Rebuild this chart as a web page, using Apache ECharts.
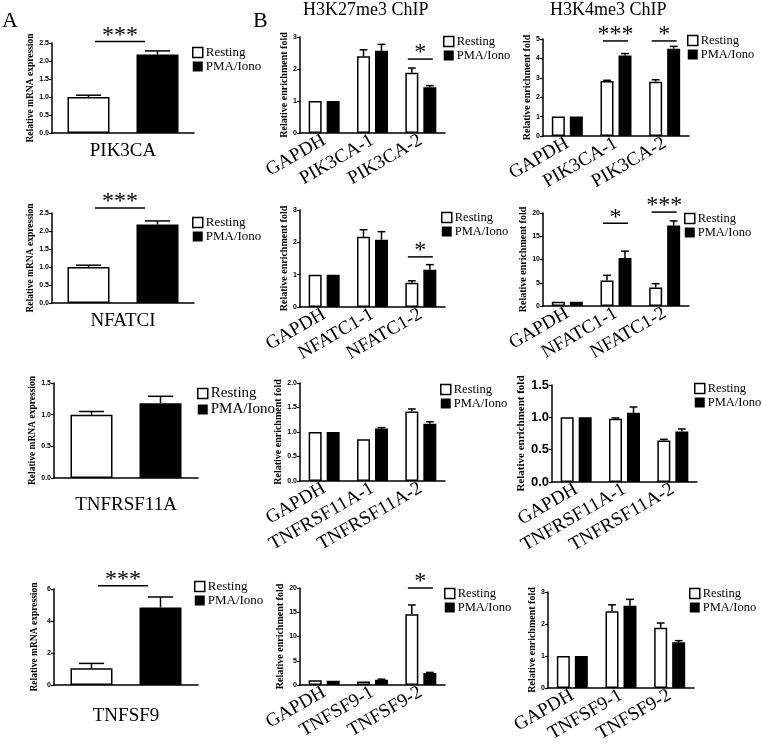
<!DOCTYPE html>
<html><head><meta charset="utf-8">
<script src="https://cdn.jsdelivr.net/npm/echarts@6/dist/echarts.min.js"></script>
<style>html,body{margin:0;padding:0;background:#fff}#c{width:762px;height:746px}</style>
</head><body><div id="c"></div>
<script>
// ---------------- DATA ----------------
const seriesNames = ['Resting', 'PMA/Iono'];

// Panel A: relative mRNA expression (one gene per chart)
const aGenes = ['PIK3CA', 'NFATCI', 'TNFRSF11A', 'TNFSF9'];
const aResting = [1.00, 1.00, 1.00, 1.05];
const aRestingErr = [0.05, 0.05, 0.05, 0.30];
const aPma = [2.18, 2.18, 1.18, 4.85];
const aPmaErr = [0.10, 0.10, 0.11, 0.65];
const aYMax = [2.5, 2.5, 1.5, 6];
const aYStep = [0.5, 0.5, 0.5, 2];
const aSig = [['***', 2.54], ['***', 2.64], null, ['***', 6.2]];

// Panel B categories
const catsPIK3CA = ['GAPDH', 'PIK3CA-1', 'PIK3CA-2'];
const catsNFATC1 = ['GAPDH', 'NFATC1-1', 'NFATC1-2'];
const catsTNFRSF11A = ['GAPDH', 'TNFRSF11A-1', 'TNFRSF11A-2'];
const catsTNFSF9 = ['GAPDH', 'TNFSF9-1', 'TNFSF9-2'];
const bCats = [catsPIK3CA, catsNFATC1, catsTNFRSF11A, catsTNFSF9];

// H3K27me3 ChIP
const k27Resting = [[1, 2.40, 1.88], [1, 2.17, 0.75], [1, 0.85, 1.42], [1.0, 0.7, 14.6]];
const k27RestingErr = [[0, 0.20, 0.15], [0, 0.22, 0.06], [0, 0, 0.05], [0, 0, 1.9]];
const k27Pma = [[1, 2.57, 1.43], [1, 2.08, 1.15], [1, 1.07, 1.17], [0.9, 1.1, 2.5]];
const k27PmaErr = [[0, 0.20, 0.05], [0, 0.25, 0.16], [0, 0.02, 0.04], [0, 0.1, 0.1]];
const k27YMax = [3, 3, 2, 20];
const k27YStep = [1, 1, 0.5, 5];
const k27Sig = [[[2, '*', 2.31]], [[2, '*', 1.55]], [], [[2, '*', 20]]];

// H3K4me3 ChIP
const k4Resting = [[1, 2.84, 2.80], [0.9, 5.5, 4.0], [1, 0.98, 0.64], [1, 2.40, 1.88]];
const k4RestingErr = [[0, 0.03, 0.10], [0, 1.1, 0.8], [0, 0.01, 0.02], [0, 0.20, 0.15]];
const k4Pma = [[1, 4.15, 4.50], [0.9, 10.3, 17.3], [1, 1.07, 0.78], [1, 2.57, 1.43]];
const k4PmaErr = [[0, 0.10, 0.12], [0, 1.5, 1.0], [0, 0.09, 0.04], [0, 0.20, 0.05]];
const k4YMax = [5, 20, 1.5, 3];
const k4YStep = [1, 5, 0.5, 1];
const k4Sig = [[[1, '***', 4.9], [2, '*', 4.9]], [[1, '*', 17.8], [2, '***', 20.2]], [], []];

// ---------------- LAYOUT / STYLE ----------------
const SERIF = '"Liberation Serif", "Times New Roman", serif';
const SANS = '"Liberation Sans", Arial, sans-serif';

const gridBoxes = [
  [52, 43, 142, 90], [52, 213, 142, 90], [54, 383, 144, 95], [54, 589, 144, 96],
  [300, 37, 145, 96], [300, 210, 145, 97], [300, 383, 145, 98], [300, 588, 145, 97],
  [543, 39, 146, 97], [543, 213, 146, 93], [552, 385, 145, 97], [548, 592, 146, 96]
];
const legendPos = [
  [192, 46], [192, 216], [197, 386], [194, 580],
  [443, 35], [441, 211], [440, 383], [444, 587],
  [687, 34], [684, 212], [694, 382], [689, 587]
];

const panels = [];
for (let i = 0; i < 4; i++) {
  panels.push({kind: 'A', cats: [aGenes[i]], rest: [aResting[i]], restErr: [aRestingErr[i]],
    pma: [aPma[i]], pmaErr: [aPmaErr[i]], yMax: aYMax[i], yStep: aYStep[i],
    sig: aSig[i] ? [[0, aSig[i][0], aSig[i][1]]] : []});
}
for (let i = 0; i < 4; i++) {
  panels.push({kind: 'B', cats: bCats[i], rest: k27Resting[i], restErr: k27RestingErr[i],
    pma: k27Pma[i], pmaErr: k27PmaErr[i], yMax: k27YMax[i], yStep: k27YStep[i], sig: k27Sig[i]});
}
for (let i = 0; i < 4; i++) {
  panels.push({kind: 'C', cats: bCats[i], rest: k4Resting[i], restErr: k4RestingErr[i],
    pma: k4Pma[i], pmaErr: k4PmaErr[i], yMax: k4YMax[i], yStep: k4YStep[i], sig: k4Sig[i]});
}

const grid = [], xAxis = [], yAxis = [], series = [], legend = [];

function errRender(barW, gapPx) {
  return function (params, api) {
    const ci = api.value(0), v = api.value(1), e = api.value(2), g = api.value(3);
    if (!e) return null;
    const d = (barW + gapPx) / 2;
    const base = api.coord([ci, v]);
    const top = api.coord([ci, v + e]);
    const x = base[0] + (g === 0 ? -d : d);
    const cw = Math.max(6, barW * 0.6);
    return {type: 'group', children: [
      {type: 'line', shape: {x1: x, y1: base[1], x2: x, y2: top[1]}, style: {stroke: '#000', lineWidth: 1.5}},
      {type: 'line', shape: {x1: x - cw / 2, y1: top[1], x2: x + cw / 2, y2: top[1]}, style: {stroke: '#000', lineWidth: 1.5}}
    ]};
  };
}
function sigRender(offL, offR) {
  return function (params, api) {
    const ci = api.value(0), yv = api.value(2);
    const label = api.value(1);
    const p = api.coord([ci, yv]);
    return {type: 'group', children: [
      {type: 'line', shape: {x1: p[0] + offL, y1: p[1], x2: p[0] + offR, y2: p[1]}, style: {stroke: '#000', lineWidth: 1.5}},
      {type: 'text', x: p[0] + (offL + offR) / 2, y: p[1] + 6,
        style: {text: label, fill: '#000', font: '24px ' + SERIF, textAlign: 'center', textVerticalAlign: 'bottom'}}
    ]};
  };
}

panels.forEach((p, i) => {
  const gb = gridBoxes[i];
  grid.push({left: gb[0], top: gb[1], width: gb[2], height: gb[3], containLabel: false});
  const isA = p.kind === 'A';
  const big = (i === 10);
  const barW = isA ? 42 : 13;
  const gapPx = isA ? 27 : 5;
  const dec = p.yStep < 1 ? 1 : 0;
  xAxis.push({
    type: 'category', gridIndex: i, data: p.cats,
    axisLine: {lineStyle: {color: '#000', width: 1.5}},
    axisTick: {alignWithLabel: true, length: 4, lineStyle: {color: '#000', width: 1.2}},
    axisLabel: isA
      ? {interval: 0, color: '#000', fontFamily: SERIF, fontSize: 19, margin: (i === 3 ? 22 : (i === 2 ? 18 : 9))}
      : {interval: 0, color: '#000', fontFamily: SERIF, fontSize: 19, rotate: 30, margin: 6}
  });
  yAxis.push({
    type: 'value', gridIndex: i, min: 0, max: p.yMax, interval: p.yStep,
    splitLine: {show: false},
    axisLine: {show: true, lineStyle: {color: '#000', width: 1.5}},
    axisTick: {show: true, length: 3, lineStyle: {color: '#000', width: 1.2}},
    axisLabel: {color: '#000', fontFamily: SANS, fontWeight: 'bold', fontSize: big ? 13 : 7, margin: 3,
      formatter: v => v.toFixed(dec)},
    name: isA ? 'Relative mRNA expression' : 'Relative enrichment fold',
    nameLocation: 'middle', nameRotate: 90,
    nameGap: isA ? 14 : (big ? 22 : 10),
    nameTextStyle: {color: '#000', fontFamily: SERIF, fontWeight: 'bold', fontSize: big ? 11 : (isA ? 9.5 : 10)}
  });
  series.push({
    name: seriesNames[0], type: 'bar', xAxisIndex: i, yAxisIndex: i, data: p.rest,
    barWidth: barW, barGap: (gapPx / barW * 100) + '%',
    itemStyle: {color: '#fff', borderColor: '#000', borderWidth: 1.5}, silent: true
  });
  series.push({
    name: seriesNames[1], type: 'bar', xAxisIndex: i, yAxisIndex: i, data: p.pma,
    barWidth: barW, barGap: (gapPx / barW * 100) + '%',
    itemStyle: {color: '#000', borderColor: '#000', borderWidth: 1.5}, silent: true
  });
  const errData = [];
  p.cats.forEach((c, ci) => {
    errData.push([ci, p.rest[ci], p.restErr[ci], 0]);
    errData.push([ci, p.pma[ci], p.pmaErr[ci], 1]);
  });
  series.push({type: 'custom', xAxisIndex: i, yAxisIndex: i, data: errData, z: 5, clip: false, silent: true,
    renderItem: errRender(barW, gapPx)});
  if (p.sig.length) {
    series.push({type: 'custom', xAxisIndex: i, yAxisIndex: i, z: 5, clip: false, silent: true,
      data: p.sig.map(s => [s[0], s[1], s[2]]),
      dimensions: ['x', {name: 'label', type: 'ordinal'}, 'y'],
      encode: {x: 0, y: 2},
      renderItem: sigRender(isA ? -28 : -13, isA ? 22 : 12)});
  }
  const lp = legendPos[i];
  const lfs = i === 2 ? 15 : (isA ? 13 : 12.5);
  legend.push({
    orient: 'vertical', left: lp[0], top: lp[1], padding: 0, itemGap: 1,
    itemWidth: 10, itemHeight: 10, selectedMode: false, icon: 'rect',
    textStyle: {color: '#000', fontFamily: SERIF, fontSize: lfs, lineHeight: 13, padding: [0, 0, 0, -2]},
    data: [
      {name: seriesNames[0], itemStyle: {color: '#fff', borderColor: '#000', borderWidth: 1.5}},
      {name: seriesNames[1], itemStyle: {color: '#000', borderColor: '#000', borderWidth: 0}}
    ]
  });
});

const chart = echarts.init(document.getElementById('c'));
chart.setOption({
  animation: false,
  backgroundColor: '#fff',
  grid, xAxis, yAxis, series, legend,
  graphic: [
    {type: 'text', left: 2, top: 10, style: {text: 'A', font: '22px ' + SERIF, fill: '#000'}},
    {type: 'text', left: 253, top: 10, style: {text: 'B', font: '22px ' + SERIF, fill: '#000'}},
    {type: 'text', left: 303, top: 1, style: {text: 'H3K27me3 ChIP', font: '18px ' + SERIF, fill: '#000'}},
    {type: 'text', left: 550, top: 1, style: {text: 'H3K4me3 ChIP', font: '18px ' + SERIF, fill: '#000'}}
  ]
});
</script></body></html>
